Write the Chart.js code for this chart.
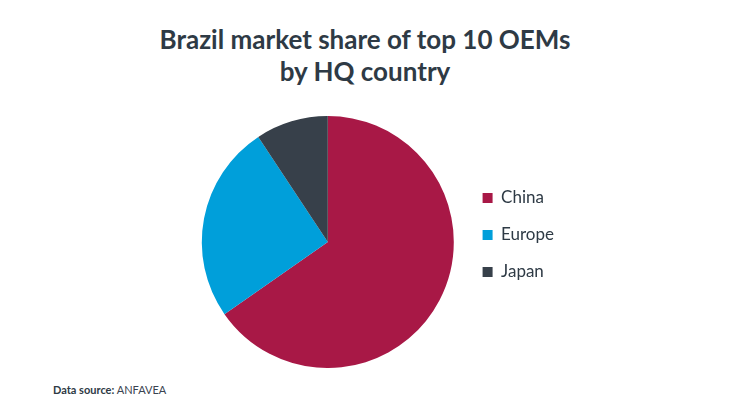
<!DOCTYPE html>
<html>
<head>
<meta charset="utf-8">
<script src="https://cdn.jsdelivr.net/npm/chart.js@4.4.1/dist/chart.umd.min.js"></script>
<style>
  html, body { margin: 0; padding: 0; background: #ffffff; }
  body { width: 730px; height: 411px; position: relative; overflow: hidden; font-family: Lato, "Open Sans", sans-serif; }
  #title { position: absolute; left: 0; width: 730px; top: 23px; text-align: center; color: #2e3a45; font-size: 26px; font-weight: 700; line-height: 32px; }
  #source { position: absolute; left: 53px; top: 383px; font-size: 11px; color: #3a4450; }
  #source b { font-weight: 700; color: #2e3a45; }
  #wrap { position: absolute; left: 193px; top: 116px; width: 371px; height: 252px; }
</style>
</head>
<body>
<div id="title">Brazil market share of top 10 OEMs<br>by HQ country</div>
<div id="wrap"><canvas id="c"></canvas></div>
<div id="source"><b>Data source:</b> ANFAVEA</div>
<script>
const categories = ["China", "Europe", "Japan"];
const shares = [65.3, 25.4, 9.3];
const colors = ["#a81846", "#009fda", "#37404a"];

const legendShift = {
  id: 'legendShift',
  afterLayout(chart) {
    if (chart.legend) { chart.legend.top -= 7; chart.legend.bottom -= 7; }
  }
};

new Chart(document.getElementById('c'), {
  type: 'pie',
  data: {
    labels: categories,
    datasets: [{ data: shares, backgroundColor: colors, borderWidth: 0, hoverOffset: 0 }]
  },
  options: {
    responsive: true,
    maintainAspectRatio: false,
    animation: false,
    layout: { padding: 0 },
    plugins: {
      tooltip: { enabled: false },
      legend: {
        position: 'right',
        labels: {
          boxWidth: 10,
          boxHeight: 10,
          padding: 20,
          color: '#2e3a45',
          font: { family: 'Lato', size: 17 }
        }
      }
    }
  },
  plugins: [legendShift]
});
</script>
</body>
</html>
